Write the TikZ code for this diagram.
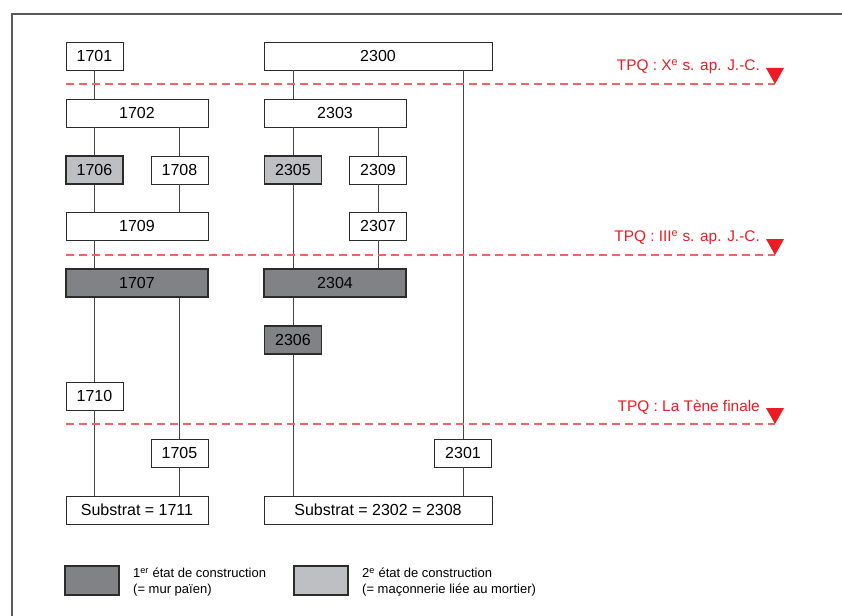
\documentclass[tikz,border=0pt]{standalone}
\usepackage{fontspec}
\setmainfont{Liberation Sans}
\usepackage{tikz}
\usetikzlibrary{arrows.meta}
\definecolor{tpqred}{RGB}{237,28,36}
\definecolor{tpqline}{RGB}{242,100,100}
\definecolor{darkfill}{RGB}{128,130,133}
\definecolor{lightfill}{RGB}{190,191,194}
\definecolor{boxline}{RGB}{45,42,43}
\definecolor{linkline}{RGB}{70,70,70}
\tikzset{
  unit/.style={
    draw=boxline, line width=0.7pt, fill=white,
    minimum height=28pt, inner sep=0pt,
    font=\fontsize{16}{18}\selectfont
  }}
\tikzset{narrow/.style={unit, minimum width=57pt}}
\tikzset{wide/.style={unit, minimum width=142pt}}
\tikzset{widest/.style={unit, minimum width=228pt}}
\tikzset{phaseone/.style={fill=darkfill, line width=1.2pt}}
\tikzset{phasetwo/.style={fill=lightfill, line width=1.2pt}}
\tikzset{link/.style={draw=linkline, line width=0.8pt}}
\tikzset{tpq/.style={draw=tpqline, line width=1.4pt, dash pattern=on 8pt off 5pt}}
\tikzset{tpqlabel/.style={text=tpqred, anchor=east, inner sep=0pt, font=\fontsize{15.4}{17}\selectfont}}
\tikzset{keytext/.style={anchor=west, align=left, inner sep=0pt, font=\fontsize{13}{16}\selectfont}}

\begin{document}
\begin{tikzpicture}[x=1pt,y=-1pt]
    \useasboundingbox (0,0) rectangle (842,615);
    \begin{scope}
        \clip (0,0) rectangle (842,615);
        \fill[white] (0,0) rectangle (842,615);
        \draw[draw=black!65, line width=1.5pt] (12,14) rectangle (900,700);
    \end{scope}

    % 17xx sequence
    \node[narrow] (u1701) at (94.5,56) {1701};
    \node[wide] (u1702) at (137,113) {1702};
    \node[narrow,phasetwo] (u1706) at (94.5,170) {1706};
    \node[narrow] (u1708) at (179.5,170) {1708};
    \node[wide] (u1709) at (137,226) {1709};
    \node[wide,phaseone] (u1707) at (137,283) {1707};
    \node[narrow] (u1710) at (94.5,396) {1710};
    \node[narrow] (u1705) at (179.5,453) {1705};
    \node[wide] (s1711) at (137,510) {Substrat = 1711};

    % 23xx sequence
    \node[widest] (u2300) at (378,56) {2300};
    \node[wide] (u2303) at (335,113) {2303};
    \node[narrow,phasetwo] (u2305) at (293,170) {2305};
    \node[narrow] (u2309) at (378,170) {2309};
    \node[narrow] (u2307) at (378,226) {2307};
    \node[wide,phaseone] (u2304) at (335,283) {2304};
    \node[narrow,phaseone] (u2306) at (293,340) {2306};
    \node[narrow] (u2301) at (463,453) {2301};
    \node[widest] (s2302) at (378,510) {Substrat = 2302 = 2308};

    \draw[link] (u1701) -- (u1702.north -| u1701.south);
    \draw[link] (u1702.south -| u1706.north) -- (u1706);
    \draw[link] (u1702.south -| u1708.north) -- (u1708);
    \draw[link] (u1706) -- (u1709.north -| u1706.south);
    \draw[link] (u1708) -- (u1709.north -| u1708.south);
    \draw[link] (u1709.south -| u1710.north) -- (u1707.north -| u1710.north);
    \draw[link] (u1707.south -| u1710.north) -- (u1710);
    \draw[link] (u1707.south -| u1705.north) -- (u1705);
    \draw[link] (u1710) -- (s1711.north -| u1710.south);
    \draw[link] (u1705) -- (s1711.north -| u1705.south);

    \draw[link] (u2300.south -| u2305.north) -- (u2303.north -| u2305.north);
    \draw[link] (u2300.south -| u2301.north) -- (u2301);
    \draw[link] (u2303.south -| u2305.north) -- (u2305);
    \draw[link] (u2303.south -| u2309.north) -- (u2309);
    \draw[link] (u2309) -- (u2307);
    \draw[link] (u2305) -- (u2304.north -| u2305.south);
    \draw[link] (u2307) -- (u2304.north -| u2307.south);
    \draw[link] (u2304.south -| u2306.north) -- (u2306);
    \draw[link] (u2306) -- (s2302.north -| u2306.south);
    \draw[link] (u2301) -- (s2302.north -| u2301.south);

    % TPQ lines
    \coordinate (tpqa) at (775,84);
    \coordinate (tpqb) at (775,255);
    \coordinate (tpqc) at (775,424);
    \draw[tpq] (66,84) -- (tpqa);
    \draw[tpq] (66,255) -- (tpqb);
    \draw[tpq] (66,424) -- (tpqc);
    \foreach \p in {tpqa,tpqb,tpqc}{
        \fill[tpqred] (\p) -- ++(-9,-16) -- ++(18,0) -- cycle;
    }
    \node[tpqlabel] (tpqatxt) at (760,67) {TPQ : X\textsuperscript{e} s. ap. J.-C.};
    \node[tpqlabel] (tpqbtxt) at (760,238) {TPQ : III\textsuperscript{e} s. ap. J.-C.};
    \node[tpqlabel] (tpqctxt) at (760,407) {TPQ : La Tène finale};

    % legend
    \node[unit,phaseone,minimum width=54pt,minimum height=29pt] (key1) at (92,580.5) {};
    \node[unit,phasetwo,minimum width=54pt,minimum height=29pt] (key2) at (321,580.5) {};
    \node[keytext] (key1txt) at (133,582)
        {1\textsuperscript{er} état de construction\\(= mur païen)};
    \node[keytext] (key2txt) at (362,582)
        {2\textsuperscript{e} état de construction\\(= maçonnerie liée au mortier)};
\end{tikzpicture}
\end{document}
